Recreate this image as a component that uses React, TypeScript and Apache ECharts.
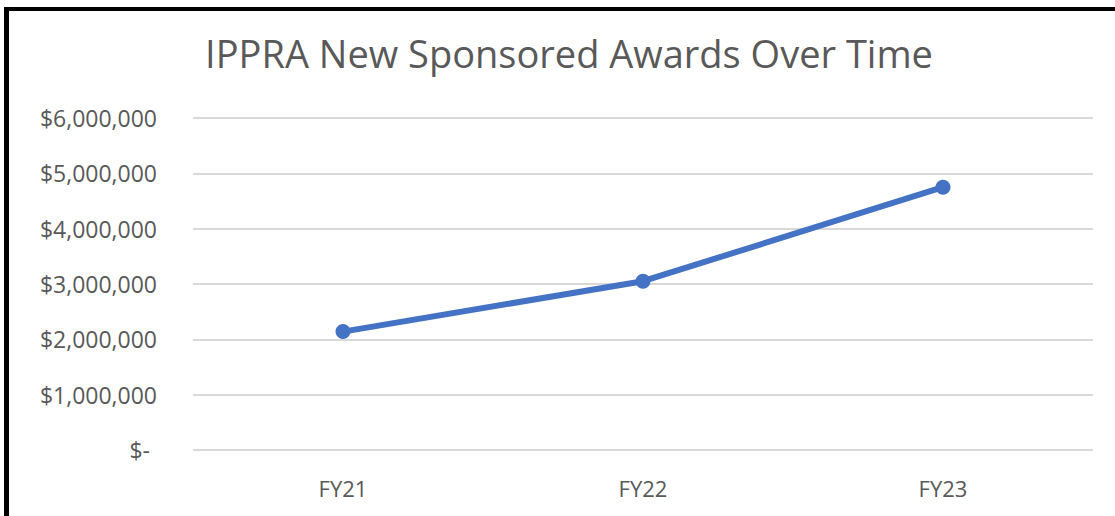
import React, { useEffect, useRef } from "react";
import * as echarts from "echarts";

const categories = ["FY21", "FY22", "FY23"];
const awards = [2140000, 3050000, 4750000];
const yMax = 6000000;
const yInterval = 1000000;
const titleText = "IPPRA New Sponsored Awards Over Time";

const fmt = (v: number) => {
  if (v === 0) return "{z|$-}";
  return "$" + v.toLocaleString("en-US");
};

export default function App() {
  const ref = useRef<HTMLDivElement>(null);
  useEffect(() => {
    if (!ref.current) return;
    const chart = echarts.init(ref.current, null, { renderer: "svg" });
    chart.setOption({
      animation: false,
      backgroundColor: "#ffffff",
      title: {
        text: titleText,
        left: 564,
        textAlign: "center",
        top: 29,
        textStyle: {
          fontFamily: "Open Sans",
          fontSize: 38,
          fontWeight: "normal",
          color: "#595959",
        },
      },
      grid: { left: 193, right: 22, top: 118, bottom: 66 },
      xAxis: {
        type: "category",
        data: categories,
        boundaryGap: true,
        axisLine: { show: false },
        axisTick: { show: false },
        axisLabel: {
          margin: 27,
          fontFamily: "Open Sans",
          fontSize: 22,
          color: "#595959",
        },
      },
      yAxis: {
        type: "value",
        min: 0,
        max: yMax,
        interval: yInterval,
        axisLine: { show: false },
        axisTick: { show: false },
        splitLine: { lineStyle: { color: "#d9d9d9", width: 2 } },
        axisLabel: {
          margin: 36,
          fontFamily: "Open Sans",
          fontSize: 23,
          color: "#595959",
          formatter: fmt,
          rich: {
            z: {
              fontFamily: "Open Sans",
              fontSize: 23,
              color: "#595959",
              padding: [0, 7, 0, 0],
            },
          },
        },
      },
      series: [
        {
          type: "line",
          data: awards,
          symbol: "circle",
          symbolSize: 15,
          lineStyle: { color: "#4472C4", width: 6 },
          itemStyle: { color: "#4472C4" },
        },
      ],
      graphic: [
        { type: "rect", shape: { x: 4, y: 7, width: 5, height: 509 }, style: { fill: "#000" }, z: 100 },
        { type: "rect", shape: { x: 4, y: 7, width: 1111, height: 4 }, style: { fill: "#000" }, z: 100 },
      ],
    });
    return () => chart.dispose();
  }, []);
  return (
    <div
      ref={ref}
      style={{ position: "fixed", left: 0, top: 0, width: 1115, height: 516 }}
    />
  );
}
